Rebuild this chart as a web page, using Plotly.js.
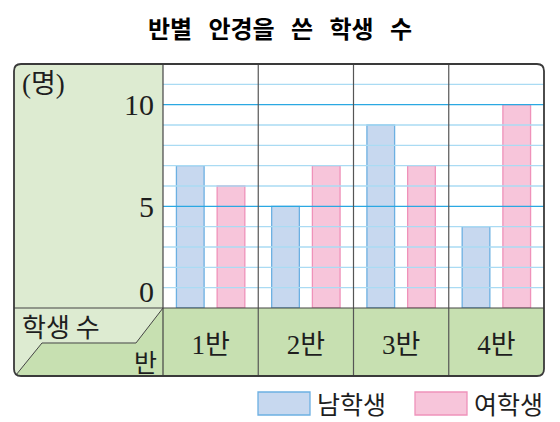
<!DOCTYPE html>
<html>
<head>
<meta charset="utf-8">
<script src="https://cdn.plot.ly/plotly-3.0.1.min.js"></script>
<style>
  html, body { margin: 0; padding: 0; background: #ffffff; }
  #plotdiv { width: 560px; height: 422px; }
</style>
</head>
<body>
<div id="plotdiv"></div>
<script>

// Chart data
let classes = ["1반", "2반", "3반", "4반"];
let boys = [7, 5, 9, 4];
let girls = [6, 7, 7, 10];
let series_names = ["남학생", "여학생"];
let series_fills = ["#c7d8ef", "#f7c5da"];
let series_lines = ["#6cb0e2", "#ef92ba"];
let ytick_vals = [0, 5, 10];
let ymax = 12;

let title_text = "반별 안경을 쓴 학생 수";
let unit_label = "(명)";
let corner_top = "학생 수";
let corner_bottom = "반";

// Page geometry (pixels)
let W = 560, H = 422;
let margin = { l: 163, r: 16, t: 64, b: 114 };
let pw = W - margin.l - margin.r;
let ph = H - margin.t - margin.b;
let frame = { x0: 14, y0: 64, x1: 544, y1: 376, r: 7 };

// Pixel -> paper coordinates
let px = x => (x - margin.l) / pw;
let py = y => (H - margin.b - y) / ph;

// Path with optional rounded corners [tl, tr, br, bl]
let rr_path = function(x0, y0, x1, y1, r) {
  let p = (x, y) => px(x).toFixed(5) + "," + py(y).toFixed(5);
  return "M" + p(x0 + r[0], y0) +
    " L" + p(x1 - r[1], y0) + " Q" + p(x1, y0) + " " + p(x1, y0 + r[1]) +
    " L" + p(x1, y1 - r[2]) + " Q" + p(x1, y1) + " " + p(x1 - r[2], y1) +
    " L" + p(x0 + r[3], y1) + " Q" + p(x0, y1) + " " + p(x0, y1 - r[3]) +
    " L" + p(x0, y0 + r[0]) + " Q" + p(x0, y0) + " " + p(x0 + r[0], y0) + " Z";
};

let poly_path = function(pts, close) {
  let s = pts.map((q, i) => (i == 0 ? "M" : "L") + px(q[0]).toFixed(5) + "," + py(q[1]).toFixed(5)).join(" ");
  return close ? s + " Z" : s;
};

let serif = "Liberation Serif, Noto Sans CJK KR, serif";
let sans = "Noto Sans CJK KR, sans-serif";
let ink = "#1e1e1e";
let frame_col = "#3a3a3a";
let green_light = "#ddebd1";
let green_dark = "#c7e0b1";
let grid_light = "#aadbf3";
let grid_dark = "#2aa8e2";

// Traces
let data = [boys, girls].map((vals, i) => ({
  x: classes,
  y: vals,
  name: series_names[i],
  type: "bar",
  marker: {
    color: series_fills[i],
    line: { color: series_lines[i], width: 1.3 }
  },
  hoverinfo: "none",
  showlegend: false
}));

// Background fills
let shapes = [];
shapes.push({ type: "path", xref: "paper", yref: "paper", layer: "below",
  path: rr_path(frame.x0, frame.y0, margin.l, H - margin.b, [frame.r, 0, 0, 0]),
  fillcolor: green_light, line: { width: 0 } });
shapes.push({ type: "path", xref: "paper", yref: "paper", layer: "below",
  path: rr_path(frame.x0, H - margin.b, margin.l, frame.y1, [0, 0, 0, frame.r]),
  fillcolor: green_light, line: { width: 0 } });
shapes.push({ type: "path", xref: "paper", yref: "paper", layer: "below",
  path: poly_path([[margin.l, H - margin.b], [136, 343], [42, 343], [16, frame.y1 - 1], [margin.l, frame.y1]], true),
  fillcolor: green_dark, line: { width: 0 } });
shapes.push({ type: "path", xref: "paper", yref: "paper", layer: "below",
  path: rr_path(margin.l, H - margin.b, frame.x1, frame.y1, [0, 0, frame.r, 0]),
  fillcolor: green_dark, line: { width: 0 } });

// Grid lines drawn above the bars
for (let v = 1; v < ymax; v++) {
  shapes.push({ type: "line", xref: "paper", yref: "y", layer: "above",
    x0: 0, x1: 1, y0: v, y1: v,
    line: { color: v % 5 == 0 ? grid_dark : grid_light, width: 1.3 } });
}

// Class dividers
classes.slice(1).forEach((c, i) => {
  shapes.push({ type: "line", xref: "x", yref: "paper", layer: "above",
    x0: i + 0.5, x1: i + 0.5, y0: py(frame.y1), y1: py(frame.y0),
    line: { color: "#555555", width: 1.2 } });
});

// Table separators
shapes.push({ type: "line", xref: "paper", yref: "paper", layer: "above",
  x0: px(frame.x0), x1: px(frame.x1), y0: 0, y1: 0,
  line: { color: "#444444", width: 1.2 } });
shapes.push({ type: "line", xref: "paper", yref: "paper", layer: "above",
  x0: 0, x1: 0, y0: py(frame.y1), y1: py(frame.y0),
  line: { color: "#444444", width: 1.2 } });
shapes.push({ type: "path", xref: "paper", yref: "paper", layer: "above",
  path: poly_path([[margin.l, H - margin.b], [136, 343], [42, 343], [16, frame.y1 - 1]], false),
  fillcolor: "rgba(0,0,0,0)", line: { color: "#444444", width: 1 } });

// Outer frame
shapes.push({ type: "path", xref: "paper", yref: "paper", layer: "above",
  path: rr_path(frame.x0, frame.y0, frame.x1, frame.y1, [frame.r, frame.r, frame.r, frame.r]),
  fillcolor: "rgba(0,0,0,0)", line: { color: frame_col, width: 1.8 } });

// Legend boxes
let legend_x = [258, 415];
series_names.forEach((n, i) => {
  shapes.push({ type: "rect", xref: "paper", yref: "paper",
    x0: px(legend_x[i]), x1: px(legend_x[i] + 52), y0: py(415), y1: py(392),
    fillcolor: series_fills[i], line: { color: series_lines[i], width: 1.3 } });
});

// Text annotations
let annotations = [];
ytick_vals.forEach(v => {
  annotations.push({ xref: "paper", yref: "y", x: px(156), y: v,
    xanchor: "right", yanchor: v == 0 ? "bottom" : "middle", yshift: v == 0 ? -2 : 0,
    text: String(v), showarrow: false,
    font: { family: serif, size: 30, color: ink } });
});
annotations.push({ xref: "paper", yref: "paper", x: px(20), y: py(84),
  xanchor: "left", yanchor: "middle", text: unit_label, showarrow: false,
  font: { family: serif, size: 27, color: ink } });
annotations.push({ xref: "paper", yref: "paper", x: px(20), y: py(325),
  xanchor: "left", yanchor: "middle", text: corner_top, showarrow: false,
  font: { family: sans, size: 26, color: ink } });
annotations.push({ xref: "paper", yref: "paper", x: px(159), y: py(361),
  xanchor: "right", yanchor: "middle", text: corner_bottom, showarrow: false,
  font: { family: sans, size: 25, color: ink } });
series_names.forEach((n, i) => {
  annotations.push({ xref: "paper", yref: "paper", x: px(legend_x[i] + 57), y: py(403),
    xanchor: "left", yanchor: "middle", text: n, showarrow: false,
    font: { family: sans, size: 25, color: ink } });
});

// Set layout
let layout = {
  width: W,
  height: H,
  margin: margin,
  paper_bgcolor: "#ffffff",
  plot_bgcolor: "#ffffff",
  title: {
    text: title_text.split(" ").join("\u00a0\u00a0\u00a0"),
    xref: "container",
    x: 0.5,
    xanchor: "center",
    yref: "container",
    y: 1 - 30 / H,
    yanchor: "middle",
    font: { family: sans, size: 24, weight: 700, color: "#000000" }
  },
  barmode: "group",
  bargap: 0.145,
  bargroupgap: 0.32,
  xaxis: {
    type: "category",
    range: [-0.5, classes.length - 0.5],
    fixedrange: true,
    showgrid: false,
    zeroline: false,
    showline: false,
    ticks: "",
    ticklabelstandoff: 18,
    tickfont: { family: serif, size: 27, color: ink }
  },
  yaxis: {
    range: [0, ymax],
    fixedrange: true,
    showgrid: false,
    zeroline: false,
    showline: false,
    showticklabels: false,
    ticks: ""
  },
  shapes: shapes,
  annotations: annotations,
  showlegend: false
};

let config = { displayModeBar: false, staticPlot: true };

Plotly.newPlot("plotdiv", data, layout, config);

</script>
</body>
</html>
